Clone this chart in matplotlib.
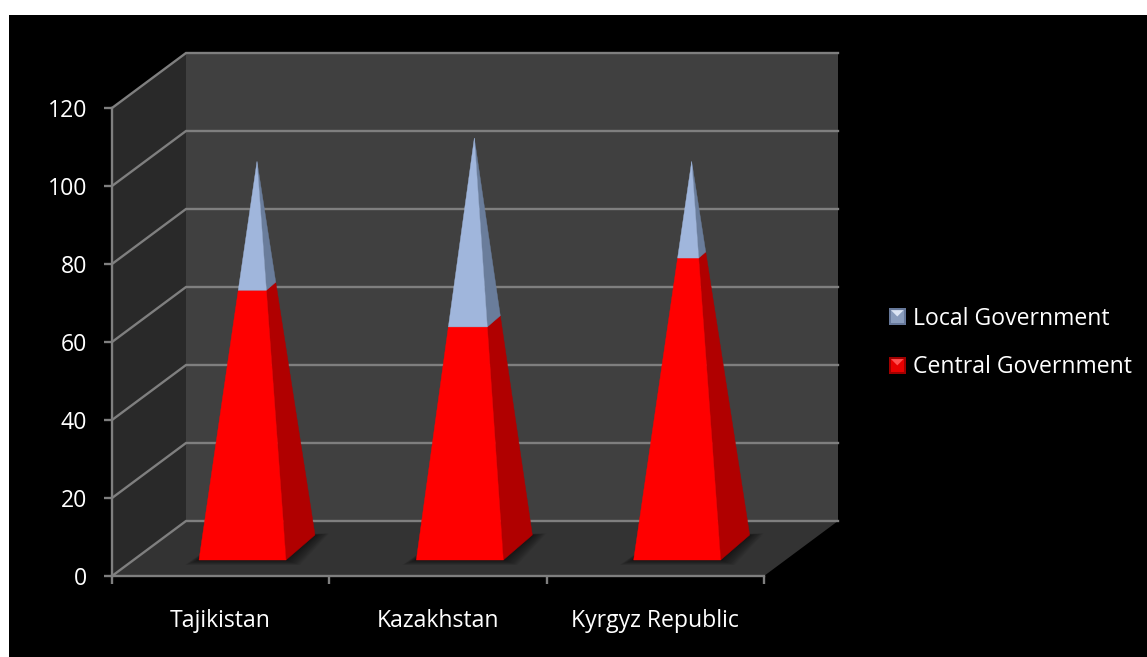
import matplotlib
matplotlib.use("Agg")
import matplotlib.pyplot as plt
from matplotlib.legend_handler import HandlerBase
from matplotlib.patches import Patch, Polygon, Rectangle

# === DATA ====================================================================
COUNTRIES = ["Tajikistan", "Kazakhstan", "Kyrgyz Republic"]
CENTRAL   = [67, 58, 75]
LOCAL     = [32, 47, 24]
Y_TICKS   = [0, 20, 40, 60, 80, 100, 120]

# === CONFIG ==================================================================
W, H = 1147, 657
PLOT_L, PLOT_R = 112, 764      # front plane, pixels
PLOT_T, PLOT_B = 108, 576
DEPTH_X_PX, DEPTH_Y_PX = 74, 55

XU = (PLOT_R - PLOT_L) / len(COUNTRIES)   # pixels per category
YU = (PLOT_B - PLOT_T) / Y_TICKS[-1]      # pixels per value unit
DX = DEPTH_X_PX / XU
DY = DEPTH_Y_PX / YU

# pyramid footprint, in data units relative to the category centre
BASE_FRONT_L = (199 - (PLOT_L + XU / 2)) / XU
BASE_W       = 87 / XU
BASE_RISE    = 16 / YU
BACK_DX      = 29 / XU
BACK_DY      = 25 / YU

WALL_BACK  = "#404040"
WALL_SIDE  = "#292929"
FLOOR      = "#333333"
GRID       = "#7f7f7f"
RED, RED_D   = "#ff0000", "#b00000"
BLUE, BLUE_D = "#a0b6dc", "#6a7d9b"
FONT = ["Open Sans", "DejaVu Sans"]
TICK_FS  = 16.6
LABEL_FS = 16.6


class BevelHandler(HandlerBase):
    """Legend key: flat square with a lighter wedge on top and a darker rim."""
    def __init__(self, face, light, dark):
        super().__init__()
        self.face, self.light, self.dark = face, light, dark

    def create_artists(self, legend, orig, xd, yd, width, height, fontsize, trans):
        x0, y0 = -xd, -yd
        s = width
        y0 = y0 + (height - s) / 2
        m = s * 0.12
        square = Rectangle((x0, y0), s, s, fc=self.dark, ec="none", transform=trans)
        inner = Rectangle((x0 + m, y0 + m), s - 2 * m, s - 2 * m, fc=self.face,
                          ec="none", transform=trans)
        wedge = Polygon([(x0 + m, y0 + s - m), (x0 + s - m, y0 + s - m),
                         (x0 + s / 2, y0 + s * 0.5)], fc=self.light, ec="none",
                        transform=trans)
        return [square, inner, wedge]


def shear(x, v, d=1.0):
    """Front-plane data position pushed d of the way to the back wall."""
    return x + DX * d, v + DY * d


def draw_shadow(ax, cx):
    # soft contact shadow on the floor, built from stacked translucent quads
    x0 = cx + BASE_FRONT_L
    steps = 12
    for k in range(1, steps + 1):
        grow = k / steps
        gx, gy = 14 * grow / XU, 5 * grow / YU
        pts = [(x0 - gx, BASE_RISE - gy),
               (x0 + BASE_W + gx, BASE_RISE - gy),
               (x0 + BASE_W + BACK_DX + gx, BASE_RISE + BACK_DY + gy * 0.3),
               (x0 + BACK_DX, BASE_RISE + BACK_DY)]
        ax.add_patch(Polygon(pts, fc="black", ec="none", alpha=0.05,
                             zorder=3, clip_on=False))


def draw_pyramid(ax, cx, segments):
    total = sum(v for v, _, _ in segments)
    x0 = cx + BASE_FRONT_L
    fl = (x0, BASE_RISE)
    fr = (x0 + BASE_W, BASE_RISE)
    br = (x0 + BASE_W + BACK_DX, BASE_RISE + BACK_DY)
    apex = (x0 + (BASE_W + BACK_DX) / 2, BASE_RISE + BACK_DY / 2 + total)

    def along(p, t):
        return (p[0] + (apex[0] - p[0]) * t, p[1] + (apex[1] - p[1]) * t)

    h = 0.0
    for value, face, side in segments:
        t0, t1 = h / total, (h + value) / total
        ax.add_patch(Polygon([along(fl, t0), along(fr, t0), along(fr, t1), along(fl, t1)],
                             fc=face, ec=face, lw=0.3, zorder=5, clip_on=False))
        ax.add_patch(Polygon([along(fr, t0), along(br, t0), along(br, t1), along(fr, t1)],
                             fc=side, ec=side, lw=0.3, zorder=4, clip_on=False))
        h += value


def main() -> None:
    plt.rcParams["font.family"] = FONT
    fig = plt.figure(figsize=(W / 100, H / 100), dpi=100, facecolor="white")
    # black slide panel behind the chart
    fig.add_artist(Rectangle((9 / W, 0), 1 - 9 / W, 1 - 15 / H, fc="black", ec="none",
                             transform=fig.transFigure, zorder=-1))

    ax = fig.add_axes([PLOT_L / W, 1 - PLOT_B / H, (PLOT_R - PLOT_L) / W, (PLOT_B - PLOT_T) / H])
    ax.patch.set_visible(False)
    n = len(COUNTRIES)
    ax.set_xlim(0, n)
    ax.set_ylim(0, Y_TICKS[-1])

    # ---------- 3D box ----------------------------------------------------------
    top = Y_TICKS[-1]
    ax.add_patch(Polygon([shear(0, 0), shear(n, 0), shear(n, top), shear(0, top)],
                         fc=WALL_BACK, ec="none", zorder=0, clip_on=False))
    ax.add_patch(Polygon([(0, 0), shear(0, 0), shear(0, top), (0, top)],
                         fc=WALL_SIDE, ec="none", zorder=0, clip_on=False))
    ax.add_patch(Polygon([(0, 0), (n, 0), shear(n, 0), shear(0, 0)],
                         fc=FLOOR, ec="none", zorder=0, clip_on=False))
    for v in Y_TICKS:
        bx, by = shear(0, v)
        ex, _ = shear(n, v)
        ax.plot([0, bx, ex], [v, by, by], color=GRID, lw=1.7, zorder=1,
                clip_on=False, solid_joinstyle="miter")

    # ---------- Pyramids --------------------------------------------------------
    for i, (c, l) in enumerate(zip(CENTRAL, LOCAL)):
        cx = i + 0.5
        draw_shadow(ax, cx)
        draw_pyramid(ax, cx, [(c, RED, RED_D), (l, BLUE, BLUE_D)])

    # ---------- Axes ------------------------------------------------------------
    for name in ("top", "right"):
        ax.spines[name].set_visible(False)
    for name in ("left", "bottom"):
        ax.spines[name].set_color(GRID)
        ax.spines[name].set_linewidth(1.7)
        ax.spines[name].set_zorder(2)
    ax.set_yticks(Y_TICKS)
    ax.set_xticks(range(n + 1))
    ax.set_xticklabels([])
    ax.set_xticks([i + 0.5 for i in range(n)], minor=True)
    ax.set_xticklabels(COUNTRIES, minor=True)
    ax.tick_params(axis="y", length=5.8, width=1.7, color=GRID, labelcolor="white",
                   labelsize=TICK_FS, pad=12)
    ax.tick_params(axis="x", which="major", length=5.8, width=1.7, color=GRID)
    ax.tick_params(axis="x", which="minor", length=0, labelcolor="white",
                   labelsize=LABEL_FS, pad=24)

    # ---------- Legend ----------------------------------------------------------
    handles = [Patch(label="Local Government"), Patch(label="Central Government")]
    handlers = {handles[0]: BevelHandler("#8a9dbd", "#dbe4f3", "#66789a"),
                handles[1]: BevelHandler("#e80000", "#ff5050", "#a00000")}
    leg = fig.legend(handles=handles, handler_map=handlers, loc="center left",
                     bbox_to_anchor=(889 / W, 1 - 343 / H), frameon=False,
                     fontsize=LABEL_FS, labelcolor="white", handlelength=0.72,
                     handleheight=0.72, handletextpad=0.3, labelspacing=1.08,
                     borderpad=0, borderaxespad=0)
    leg.set_zorder(10)

    fig.savefig("out.png", dpi=100, facecolor=fig.get_facecolor())
    plt.close(fig)


if __name__ == "__main__":
    main()
